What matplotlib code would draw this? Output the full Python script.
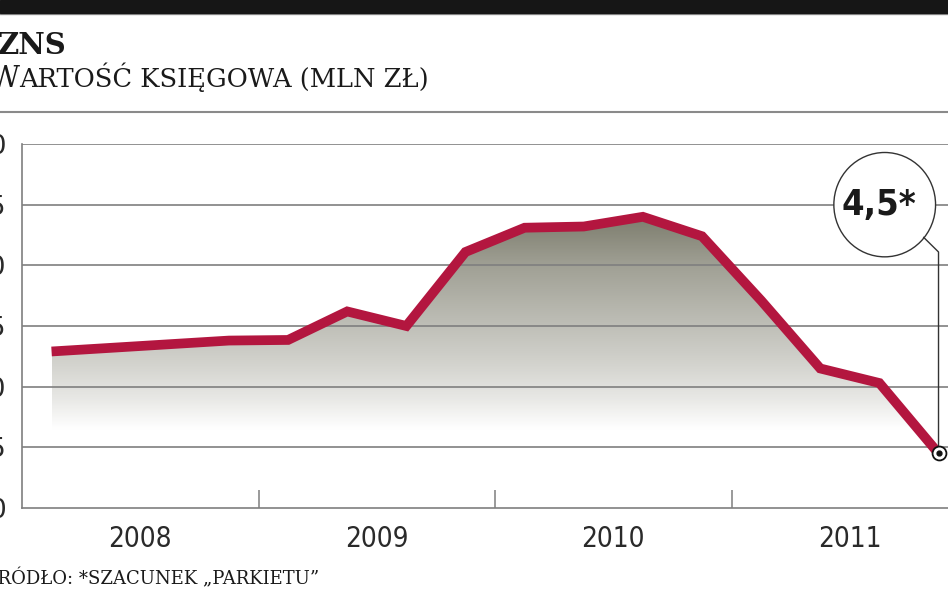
import numpy as np
import matplotlib
matplotlib.use("Agg")
import matplotlib.pyplot as plt
from matplotlib.patches import Ellipse, Rectangle
from matplotlib.lines import Line2D

# wartosc ksiegowa ZNS, kwartalnie 2008-2011 (mln zl)
kwartaly = np.arange(16)
wartosc = [12.9, 13.2, 13.5, 13.8, 13.85, 16.2, 15.0, 21.1,
           23.1, 23.2, 24.0, 22.4, 17.1, 11.5, 10.3, 4.5]
lata = ["2008", "2009", "2010", "2011"]
yticks = [0, 5, 10, 15, 20, 25, 30]
etykieta = "4,5*"

W, H = 948, 593
fig = plt.figure(figsize=(W / 100, H / 100), dpi=100)

def fx(px):
    return px / W

def fy(py):
    return 1 - py / H

# naglowek
fig.patches.append(Rectangle((0, fy(13)), 1, 13 / H, transform=fig.transFigure,
                             color="#161616", zorder=5))
fig.lines.append(Line2D([0, 1], [fy(14), fy(14)], transform=fig.transFigure,
                        color="#9a9a9a", lw=1))
fig.lines.append(Line2D([0, 1], [fy(112), fy(112)], transform=fig.transFigure,
                        color="#8a8a8a", lw=1.5))
fig.text(fx(-2), fy(54), "ZNS", fontsize=21, fontweight="bold",
         family="DejaVu Serif", color="#1a1a1a", va="baseline")
fig.text(fx(-10), fy(87), "W", fontsize=21, family="DejaVu Serif",
         color="#1a1a1a", va="baseline")
fig.text(fx(19), fy(87), "ARTOŚĆ KSIĘGOWA (MLN ZŁ)", fontsize=18.5,
         family="DejaVu Serif", color="#1a1a1a", va="baseline")
fig.text(fx(-15), fy(584), "ŹRÓDŁO: *SZACUNEK „PARKIETU”", fontsize=13,
         family="DejaVu Serif", color="#1a1a1a", va="baseline")

# wykres
dx = 59.13
x_right = 960
ax = fig.add_axes([fx(22), fy(508), (x_right - 22) / W, 364 / H])
ax.set_xlim(-0.5, (x_right - 22) / dx - 0.5)
ax.set_ylim(0, 30)
for s in ["top", "right"]:
    ax.spines[s].set_visible(False)
for s in ["left", "bottom"]:
    ax.spines[s].set_color("#7f7f7f")
    ax.spines[s].set_linewidth(1.2)

for v in yticks[1:]:
    ax.axhline(v, color="#7f7f7f", lw=1.2, zorder=2)

# gradient pod linia
poly = ax.fill_between(kwartaly, wartosc, 0, facecolor="none", edgecolor="none")
yy = np.linspace(0, 30, 300)
anch_v = [0, 6.5, 9, 12, 16, 20, 24, 30]
anch_c = [255, 255, 232, 210, 185, 160, 125, 110]
g = np.interp(yy, anch_v, anch_c) / 255
img = np.zeros((len(yy), 1, 3))
img[:, 0, 0] = g
img[:, 0, 1] = g * 1.0
img[:, 0, 2] = np.clip(g - (1 - g) * 0.12, 0, 1)
im = ax.imshow(img, extent=[kwartaly[0], kwartaly[-1], 0, 30], origin="lower",
               aspect="auto", zorder=1, interpolation="bilinear")
im.set_clip_path(poly.get_paths()[0], transform=ax.transData)

ax.plot(kwartaly, wartosc, color="#b3163f", lw=7, solid_joinstyle="miter",
        solid_capstyle="butt", zorder=3)

# os x
ax.set_xticks([1.5, 5.5, 9.5, 13.5])
ax.set_xticklabels(lata)
ax.set_xticks([3.5, 7.5, 11.5], minor=True)
ax.tick_params(axis="x", which="major", length=0, pad=12,
               labelsize=20, labelcolor="#2a2a2a")
ax.tick_params(axis="x", which="minor", direction="in", length=13,
               width=1.1, color="#7f7f7f")
for t in ax.get_xticklabels():
    t.set_family(["Liberation Sans Narrow", "DejaVu Sans"])
    t.set_fontstretch("condensed")

# os y
ax.set_yticks(yticks)
ax.set_yticklabels([str(v) for v in yticks])
ax.tick_params(axis="y", length=0, pad=11.5, labelsize=19, labelcolor="#2a2a2a")
for t in ax.get_yticklabels():
    t.set_family(["Liberation Sans Narrow", "DejaVu Sans"])

# adnotacja ostatniej wartosci
lx, ly = kwartaly[-1], wartosc[-1]
cx, cy = lx - 0.91, 25
ax.add_patch(Ellipse((cx, cy), 1.72, 8.6, fc="white", ec="#333333", lw=1,
                     zorder=4, clip_on=False))
ax.text(cx - 0.1, cy, etykieta, ha="center", va="center", fontsize=26,
        fontweight="bold", family=["Liberation Sans Narrow", "DejaVu Sans"],
        fontstretch="condensed", color="#1a1a1a", zorder=5)
ax.plot([lx - 0.25, lx, lx], [22.3, 21.1, ly], color="#333333", lw=1,
        zorder=4, clip_on=False)
ax.plot([lx], [ly], marker="o", ms=10, mfc="white", mec="#111111", mew=1.3,
        zorder=6, clip_on=False)
ax.plot([lx], [ly], marker="o", ms=3.5, color="#111111", zorder=7, clip_on=False)

fig.savefig("out.png", dpi=100)
